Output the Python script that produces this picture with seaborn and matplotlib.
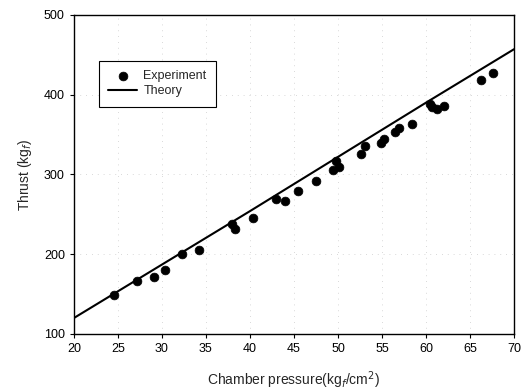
import matplotlib
matplotlib.use("Agg")
import matplotlib.pyplot as plt
import seaborn as sns
import pandas as pd

# Experimental data
exp_pressure = [24.6, 27.2, 29.1, 30.4, 32.3, 34.2, 38.0, 38.3, 40.4, 43.0, 44.0, 45.5,
                47.5, 49.4, 49.8, 50.1, 52.6, 53.1, 54.9, 55.2, 56.5, 56.9, 58.4,
                60.45, 60.7, 61.3, 62.1, 66.25, 67.65]
exp_thrust = [149, 166, 172, 180, 200, 205, 238, 231, 245, 269, 267, 279,
              292, 306, 317, 309, 325, 336, 340, 345, 353, 358, 363,
              388, 385, 382, 386, 418, 427]

# Theory curve
theory_pressure = [20, 30, 40, 50, 60, 70]
theory_thrust = [120, 187, 254, 322, 390, 457]

x_ticks = [20, 25, 30, 35, 40, 45, 50, 55, 60, 65, 70]
y_ticks = [100, 200, 300, 400, 500]

sns.set_theme(style="ticks")
plt.rcParams['font.family'] = ['Liberation Sans', 'DejaVu Sans']

fig, ax = plt.subplots(figsize=(5.24, 3.92), dpi=100)
fig.subplots_adjust(left=0.141, right=0.981, top=0.962, bottom=0.148)

df_exp = pd.DataFrame({"P": exp_pressure, "T": exp_thrust})
df_th = pd.DataFrame({"P": theory_pressure, "T": theory_thrust})

sns.lineplot(data=df_th, x="P", y="T", ax=ax, color="black", linewidth=1.5,
             label="Theory", zorder=2)
sns.scatterplot(data=df_exp, x="P", y="T", ax=ax, color="black", s=40,
                edgecolor="black", linewidth=0.5, label="Experiment", zorder=3)

ax.set_xlim(20, 70)
ax.set_ylim(100, 500)
ax.set_xticks(x_ticks)
ax.set_yticks(y_ticks)
ax.grid(True, color="#cccccc", linestyle=(0, (1, 6)), linewidth=0.6)
ax.tick_params(direction="out", length=3, width=0.8, labelsize=9, colors="black")
for s in ax.spines.values():
    s.set_visible(True)
    s.set_color("black")
    s.set_linewidth(1.0)

ax.set_xlabel("Chamber pressure(kg$_f$/cm$^2$)", fontsize=10, labelpad=10)
ax.set_ylabel("Thrust (kg$_f$)", fontsize=10, labelpad=7)

handles, labels = ax.get_legend_handles_labels()
order = [labels.index("Experiment"), labels.index("Theory")]
leg = ax.legend([handles[i] for i in order], [labels[i] for i in order],
                loc="upper left", bbox_to_anchor=(0.057, 0.856), fontsize=9,
                frameon=True, fancybox=False, edgecolor="black", framealpha=1,
                borderpad=0.75, handlelength=2.3, labelspacing=0.25,
                borderaxespad=0, handletextpad=0.5)
leg.get_frame().set_linewidth(0.8)

fig.savefig("out.png", dpi=100)
